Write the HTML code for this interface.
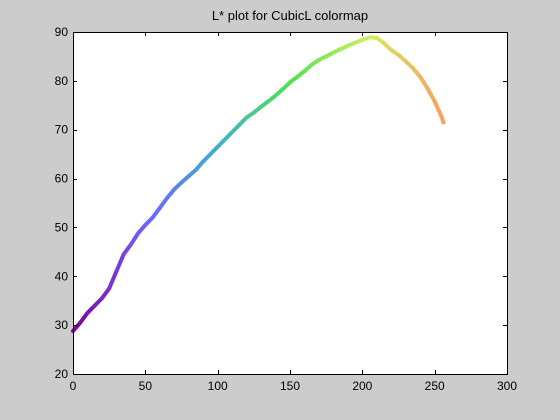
<!DOCTYPE html>
<html><head><meta charset="utf-8"><style>
html,body{margin:0;padding:0;background:#cccccc;}
svg{display:block;font-family:"Liberation Sans",sans-serif;}
</style></head><body>
<svg id="chart" width="560" height="420">
<rect x="0" y="0" width="560" height="420" fill="#cccccc"/>
<text x="290" y="20" text-anchor="middle" font-size="13" fill="#000">L* plot for CubicL colormap</text>
<rect x="73" y="32" width="434" height="342" fill="#ffffff"/>
<g id="series"></g>
<g id="axes"></g>
</svg>
<script>
const xValues = [0,5,10,15,20,25,30,35,40,45,50,55,60,65,70,75,80,85,90,95,100,105,110,115,120,125,130,135,140,145,150,155,160,165,170,175,180,185,190,195,200,205,210,215,220,225,230,235,240,245,250,255,256];
const lValues = [28.8,30.5,32.5,34,35.5,37.5,41,44.5,46.5,48.8,50.5,52,54,56,57.8,59.2,60.5,61.8,63.5,65,66.5,68,69.5,71,72.5,73.5,74.7,75.8,77,78.3,79.7,80.8,82,83.3,84.3,85,85.8,86.5,87.2,87.8,88.4,88.9,88.8,87.7,86.3,85.3,84,82.6,80.8,78.5,75.8,72.5,71.5];
const xTicks = [0,50,100,150,200,250,300];
const yTicks = [20,30,40,50,60,70,80,90];
const colorStops = [[0,[128,0,144]],[50,[112,96,255]],[100,[64,176,208]],[150,[80,224,80]],[205,[208,240,96]],[256,[248,160,96]]];

const L=73,R=507,T=32,B=374;
const xs=v=>L+(v-0)/(300-0)*(R-L);
const ys=v=>B-(v-20)/(90-20)*(B-T);
const NS="http://www.w3.org/2000/svg";
function colorAt(x){
  for(let i=0;i<colorStops.length-1;i++){
    const a=colorStops[i],b=colorStops[i+1];
    if(x<=b[0]){const t=(x-a[0])/(b[0]-a[0]);
      return `rgb(${a[1].map((c,k)=>Math.round(c+(b[1][k]-c)*t)).join(',')})`;}
  }
  const c=colorStops[colorStops.length-1][1];return `rgb(${c.join(',')})`;
}
const series=document.getElementById('series');
for(let i=0;i<xValues.length-1;i++){
  const ln=document.createElementNS(NS,'line');
  
  
  ln.setAttribute('x1',xs(xValues[i]));ln.setAttribute('y1',ys(lValues[i]));
  ln.setAttribute('x2',xs(xValues[i+1]));ln.setAttribute('y2',ys(lValues[i+1]));
  ln.setAttribute('stroke',colorAt((xValues[i]+xValues[i+1])/2));
  ln.setAttribute('stroke-width','4');ln.setAttribute('stroke-linecap','round');
  series.appendChild(ln);
}
const axes=document.getElementById('axes');
const box=document.createElementNS(NS,'rect');


box.setAttribute('x',L+0.5);box.setAttribute('y',T+0.5);box.setAttribute('width',R-L);box.setAttribute('height',B-T);
box.setAttribute('fill','none');box.setAttribute('stroke','#000');
axes.appendChild(box);
xTicks.forEach(v=>{
  const x=Math.round(xs(v))+0.5;
  [[B,B-4],[T,T+4]].forEach(([a,b])=>{
    const t=document.createElementNS(NS,'line');
    
    
    t.setAttribute('x1',x);t.setAttribute('x2',x);t.setAttribute('y1',a);t.setAttribute('y2',b);t.setAttribute('stroke','#000');
    axes.appendChild(t);
  });
  const tx=document.createElementNS(NS,'text');
  
  
  tx.setAttribute('x',xs(v));tx.setAttribute('y',B+16);tx.setAttribute('text-anchor','middle');tx.setAttribute('font-size','12');
  tx.textContent=v;axes.appendChild(tx);
});
yTicks.forEach(v=>{
  const y=Math.round(ys(v))+0.5;
  [[L,L+4],[R,R-4]].forEach(([a,b])=>{
    const t=document.createElementNS(NS,'line');
    
    
    t.setAttribute('x1',a);t.setAttribute('x2',b);t.setAttribute('y1',y);t.setAttribute('y2',y);t.setAttribute('stroke','#000');
    axes.appendChild(t);
  });
  const tx=document.createElementNS(NS,'text');
  
  
  tx.setAttribute('x',L-5);tx.setAttribute('y',ys(v)+4);tx.setAttribute('text-anchor','end');tx.setAttribute('font-size','12');
  tx.textContent=v;axes.appendChild(tx);
});
</script>
</body></html>
